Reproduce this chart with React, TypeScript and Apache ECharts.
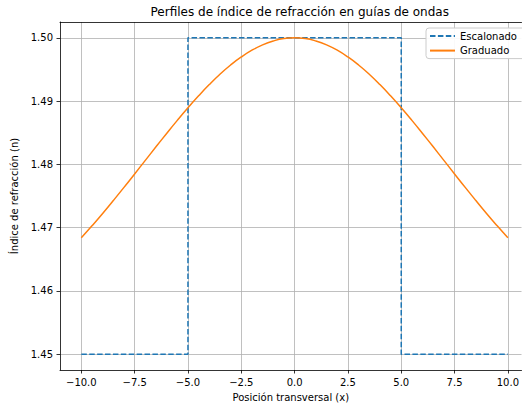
import React, { useEffect, useRef } from "react";
import * as echarts from "echarts";

const titleText = "Perfiles de índice de refracción en guías de ondas";
const xAxisName = "Posición transversal (x)";
const yAxisName = "Índice de refracción (n)";
const seriesNames = ["Escalonado", "Graduado"];

const xTicks = [-10, -7.5, -5, -2.5, 0, 2.5, 5, 7.5, 10];
const yTicks = [1.45, 1.46, 1.47, 1.48, 1.49, 1.5];

// Step-index profile (corner points)
const stepX = [-10, -5, -5, 5, 5, 10];
const stepY = [1.45, 1.45, 1.5, 1.5, 1.45, 1.45];

// Graded-index profile, every 0.5
const gradX = [
  -10, -9.5, -9, -8.5, -8, -7.5, -7, -6.5, -6, -5.5, -5, -4.5, -4, -3.5, -3, -2.5, -2, -1.5, -1, -0.5,
  0, 0.5, 1, 1.5, 2, 2.5, 3, 3.5, 4, 4.5, 5, 5.5, 6, 6.5, 7, 7.5, 8, 8.5, 9, 9.5, 10,
];
const gradY = [
  1.46839, 1.47028, 1.47224, 1.47428, 1.47636, 1.47849, 1.48063, 1.48277, 1.48488, 1.48695, 1.48894,
  1.49083, 1.49261, 1.49424, 1.4957, 1.49697, 1.49804, 1.49889, 1.4995, 1.49988, 1.5, 1.49988, 1.4995,
  1.49889, 1.49804, 1.49697, 1.4957, 1.49424, 1.49261, 1.49083, 1.48894, 1.48695, 1.48488, 1.48277,
  1.48063, 1.47849, 1.47636, 1.47428, 1.47224, 1.47028, 1.46839,
];

const FONT = "DejaVu Sans";
const X_MIN = -11;
const X_MAX = 10.64; // visible right edge of the cropped axes

function fmtX(v: number) {
  const s = Math.abs(v).toFixed(1);
  return v < 0 ? "\u2212" + s : s;
}

export default function App() {
  const ref = useRef<HTMLDivElement>(null);
  useEffect(() => {
    if (!ref.current) return;
    const chart = echarts.init(ref.current, undefined, { renderer: "svg" });
    const lineSt = { color: "#000", width: 0.8 };
    chart.setOption({
      animation: false,
      backgroundColor: "#fff",
      title: {
        text: titleText,
        left: 294.75,
        textAlign: "center",
        top: 1,
        textStyle: { fontFamily: FONT, fontSize: 12, fontWeight: "normal", color: "#000" },
      },
      grid: {
        left: 60,
        top: 22,
        right: 0,
        height: 349,
        show: false,
        containLabel: false,
      },
      legend: {
        orient: "vertical",
        left: 426,
        top: 28,
        z: 20,
        padding: [3, 30, 3, 3],
        itemWidth: 25,
        itemHeight: 12,
        itemGap: 4.6,
        backgroundColor: "rgba(255,255,255,0.92)",
        borderColor: "#cccccc",
        borderWidth: 1,
        borderRadius: 3,
        itemStyle: { opacity: 0 },
        textStyle: { fontFamily: FONT, fontSize: 10, color: "#000" },
        data: seriesNames,
      },
      xAxis: [
        {
          type: "value",
          min: X_MIN,
          max: X_MAX,
          name: xAxisName,
          nameLocation: "middle",
          nameGap: 22,
          nameTextStyle: { fontFamily: FONT, fontSize: 10, color: "#000" },
          axisLine: { show: true, onZero: false, lineStyle: lineSt },
          axisTick: { show: true, length: 3.5, lineStyle: lineSt, customValues: xTicks },
          splitLine: { show: true, lineStyle: { color: "#b0b0b0", width: 0.8 } },
          axisLabel: {
            customValues: xTicks,
            formatter: (v: number) => fmtX(v),
            fontFamily: FONT,
            fontSize: 10,
            color: "#000",
            margin: 7,
          },
        },
        {
          type: "value",
          position: "top",
          min: X_MIN,
          max: X_MAX,
          axisLine: { show: true, onZero: false, lineStyle: lineSt },
          axisTick: { show: false },
          axisLabel: { show: false },
          splitLine: { show: false },
        },
      ],
      yAxis: {
        type: "value",
        min: 1.4475,
        max: 1.5025,
        name: yAxisName,
        nameLocation: "middle",
        nameGap: 29,
        nameTextStyle: { fontFamily: FONT, fontSize: 10, color: "#000" },
        axisLine: { show: true, onZero: false, lineStyle: lineSt },
        axisTick: { show: true, length: 3.5, lineStyle: lineSt, customValues: yTicks },
        splitLine: { show: true, lineStyle: { color: "#b0b0b0", width: 0.8 } },
        axisLabel: {
          customValues: yTicks,
          formatter: (v: number) => v.toFixed(2),
          fontFamily: FONT,
          fontSize: 10,
          color: "#000",
          margin: 7,
        },
      },
      series: [
        {
          name: seriesNames[0],
          type: "line",
          showSymbol: false,
          symbol: "none",
          data: stepX.map((x, i) => [x, stepY[i]]),
          lineStyle: { color: "#1f77b4", width: 1.5, type: [5.5, 2.4] },
          itemStyle: { color: "#1f77b4" },
          z: 3,
        },
        {
          name: seriesNames[1],
          type: "line",
          showSymbol: false,
          symbol: "none",
          smooth: true,
          data: gradX.map((x, i) => [x, gradY[i]]),
          lineStyle: { color: "#ff7f0e", width: 1.5 },
          itemStyle: { color: "#ff7f0e" },
          z: 4,
        },
      ],
    });
    return () => chart.dispose();
  }, []);
  return (
    <div
      ref={ref}
      style={{ position: "fixed", left: 0, top: 0, width: 522, height: 407, background: "#fff" }}
    />
  );
}
